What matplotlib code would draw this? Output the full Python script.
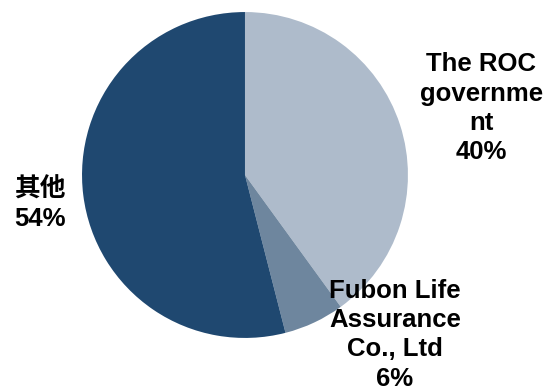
import matplotlib
matplotlib.use("Agg")
import matplotlib.pyplot as plt

plt.rcParams["font.family"] = ["Liberation Sans", "Noto Sans CJK SC", "DejaVu Sans"]

# data
labels = ["The ROC\ngovernme\nnt", "Fubon Life\nAssurance\nCo., Ltd", "其他"]
shares = [40, 6, 54]
colors = ["#AEBBCB", "#6E869E", "#1F4870"]

# label anchor points in data units (pie radius = 1)
label_pos = [(1.45, 0.41), (0.92, -0.98), (-1.26, -0.18)]

fig = plt.figure(figsize=(5.45, 3.9), dpi=100)
ax = fig.add_axes([0.1505, 0.1333, 0.598, 0.836])

ax.pie(shares, colors=colors, startangle=90, counterclock=False,
       wedgeprops=dict(linewidth=0))
ax.set_xlim(-1, 1)
ax.set_ylim(-1, 1)
ax.set_aspect("equal")

for lab, val, (x, y) in zip(labels, shares, label_pos):
    ax.text(x, y, f"{lab}\n{val}%", ha="center", va="center",
            fontsize=18.5, fontweight="bold", linespacing=1.28,
            color="black", clip_on=False)

fig.savefig("out.png", dpi=100)
